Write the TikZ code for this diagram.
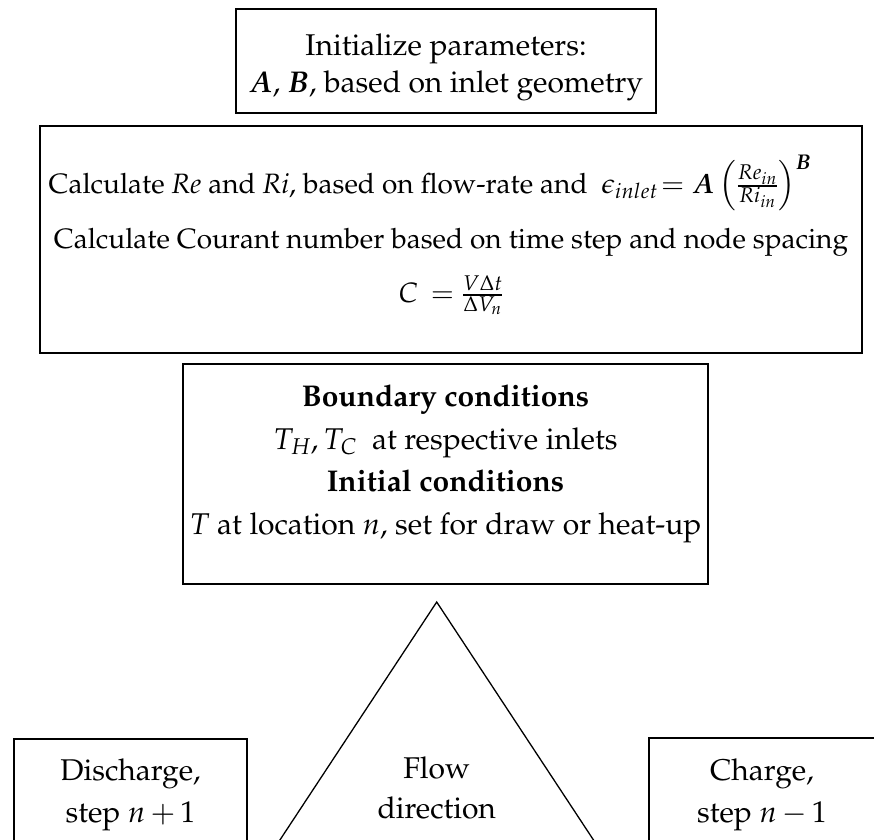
\documentclass[tikz,border=0pt]{standalone}
\usepackage[T1]{fontenc}
\usepackage{amsmath}
\usepackage{mathpazo}
\usepackage{bm}
\begin{document}
\begin{tikzpicture}[x=1pt,y=-1pt,
  box/.style={draw=black,line width=2pt,inner sep=0pt,rectangle},
  txt/.style={inner sep=0pt,anchor=base,font=\fontsize{30}{36}\selectfont},
  txtb/.style={inner sep=0pt,anchor=base,font=\fontsize{28}{36}\selectfont},
  tri/.style={draw=black,line width=1.3pt}]
\useasboundingbox (0,0) rectangle (874,839);
\clip (0,0) rectangle (874,839);
% box 1
\node[box,minimum width=420pt,minimum height=104pt] (b1) at (446,61) {};
\node[txt] (b1a) at (446,55) {Initialize parameters:};
\node[txt] (b1b) at (446,92) {$\bm{A}$, $\bm{B}$, based on inlet geometry};
% box 2
\node[box,minimum width=822pt,minimum height=227pt] (b2) at (451,239.5) {};
\node[txtb] (b2a) at (430,193) {Calculate \textit{Re} and \textit{Ri}, based on flow-rate and\ \ $\epsilon_{inlet}\!=\bm{A}\left(\frac{Re_{in}}{Ri_{in}}\right)^{\bm{B}}$};
\node[txtb] (b2b) at (451,248) {Calculate Courant number based on time step and node spacing};
\node[txtb] (b2c) at (451,302) {$C\,=\frac{V\Delta t}{\Delta V_n}$};
% box 3
\node[box,minimum width=525pt,minimum height=220pt] (b3) at (445.5,474) {};
\node[txt] (b3a) at (445.5,406) {\textbf{Boundary conditions}};
\node[txt] (b3b) at (445.5,449) {$T_H,T_C$\ \ at respective inlets};
\node[txt] (b3c) at (445.5,491) {\textbf{Initial conditions}};
\node[txt] (b3d) at (445.5,534) {$T$ at location $n$, set for draw or heat-up};
% triangle
\coordinate (apex) at (436.7,602);
\coordinate (tl) at (254.2,879);
\coordinate (tr) at (619.2,879);
\draw[tri] (tl) -- (apex) -- (tr);
\node[txt] (flow) at (436.7,778) {Flow};
\node[txt] (dir) at (436.7,818) {direction};
% left box
\coordinate (lb1) at (14,860);
\coordinate (lb2) at (14,739);
\coordinate (lb3) at (247,739);
\coordinate (lb4) at (247,860);
\draw[line width=2pt] (lb1) -- (lb2) -- (lb3) -- (lb4);
\node[txt] (dis1) at (130.5,780) {Discharge,};
\node[txt] (dis2) at (130.5,822) {step $n\mskip3mu{+}\mskip3mu1$};
% right box
\coordinate (rb1) at (649,860);
\coordinate (rb2) at (649,738);
\coordinate (rb3) at (900,738);
\draw[line width=2pt] (rb1) -- (rb2) -- (rb3);
\node[txt] (ch1) at (762,780) {Charge,};
\node[txt] (ch2) at (762,822) {step $n\mskip3mu{-}\mskip3mu1$};
\end{tikzpicture}
\end{document}
